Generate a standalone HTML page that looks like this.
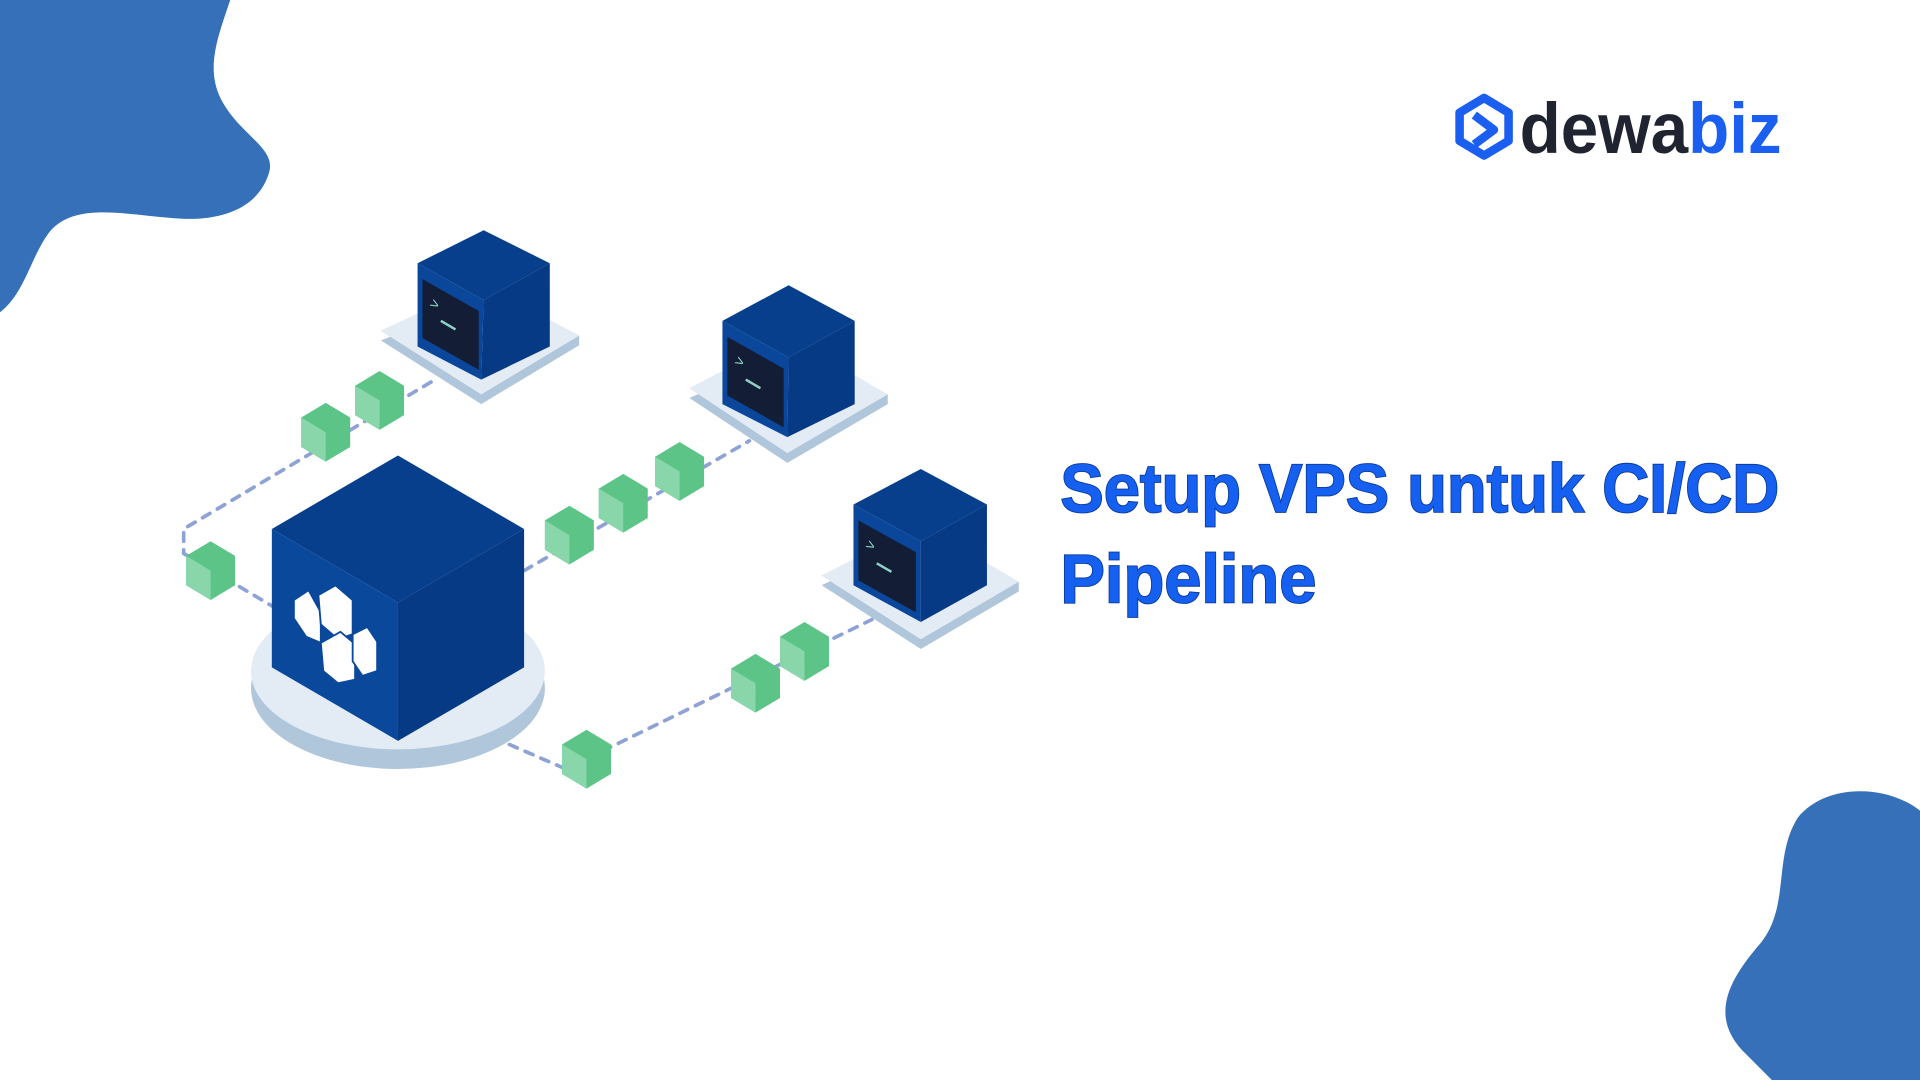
<!DOCTYPE html>
<html><head><meta charset="utf-8"><style>html,body{margin:0;padding:0;background:#fff;overflow:hidden}svg{display:block}</style></head>
<body>
<svg width="1920" height="1080" viewBox="0 0 1568 882" xmlns="http://www.w3.org/2000/svg">
<rect width="1568" height="882" fill="#fff"/>
<path d="M0,0 H188 C178,30 168,55 180,80 C195,110 225,120 220,140 C212,170 180,182 140,178 C100,175 60,165 40,190 C25,210 20,240 0,255 Z" fill="#3670b8"/>
<path d="M1568,662 C1540,640 1490,640 1468,668 C1448,700 1462,740 1438,770 C1412,800 1395,830 1425,860 L1447,882 H1568 Z" fill="#3670b8"/>

<!-- dashed connectors -->
<g fill="none" stroke="#8ea2d6" stroke-width="3" stroke-dasharray="7,7" stroke-linecap="round">
<path d="M352,312 L150,432 L150,452 L224,496"/>
<path d="M428,466 L612,360"/>
<path d="M416,608 L462,628 L712,506"/>
</g>

<!-- main platform -->
<ellipse cx="325" cy="562" rx="120" ry="66" fill="#b0c6db"/>
<ellipse cx="325" cy="548" rx="120" ry="64" fill="#e3ebf4"/>
<!-- main cube -->
<polygon points="325,372 222,432 325,492 428,432" fill="#073f8d"/>
<polygon points="222,432 325,492 325,605 222,545" fill="#0a489c"/>
<polygon points="428,432 325,492 325,605 428,545" fill="#063a85"/>
<!-- cube icon -->
<g fill="#fff" stroke="#0a489c" stroke-width="1.5">
<polygon points="240,490 252,482 262,500 262,525 250,520 240,505"/>
<polygon points="260,486 274,478 288,490 288,518 276,522 262,510"/>
<polygon points="262,525 278,516 290,526 290,555 276,558 264,548"/>
<polygon points="288,518 300,512 308,524 308,548 296,552 288,540"/>
</g>

<!-- servers -->
<g id="srv">
</g>
<!-- server 1 -->
<polygon points="393,246 311,278 393,330 473,282 473,274 393,322 311,270" fill="#b0c6db"/>
<polygon points="393,232 311,270 393,322 473,274" fill="#e3ebf4"/>
<polygon points="395,188 341,215 395,245 449,215" fill="#073f8d"/>
<polygon points="341,215 395,245 393,310 341,283" fill="#0a469a"/>
<polygon points="449,215 395,245 393,310 449,283" fill="#063a85"/>
<polygon points="345,228 391,254 391,302 345,276" fill="#131e36"/>
<text x="350" y="250" fill="#8fd3c4" font-family="Liberation Mono, monospace" font-size="12" transform="rotate(30 350 250)">&gt;</text>
<line x1="360" y1="262" x2="372" y2="269" stroke="#8fd3c4" stroke-width="2"/>

<!-- server 2 -->
<polygon points="643,290 563,325 643,378 725,330 725,322 643,370 563,317" fill="#b0c6db"/>
<polygon points="643,275 563,317 643,370 725,322" fill="#e3ebf4"/>
<polygon points="644,233 590,262 644,292 698,262" fill="#073f8d"/>
<polygon points="590,262 644,292 643,357 590,330" fill="#0a469a"/>
<polygon points="698,262 644,292 643,357 698,330" fill="#063a85"/>
<polygon points="594,275 640,301 640,349 594,323" fill="#131e36"/>
<text x="599" y="297" fill="#8fd3c4" font-family="Liberation Mono, monospace" font-size="12" transform="rotate(30 599 297)">&gt;</text>
<line x1="609" y1="310" x2="621" y2="317" stroke="#8fd3c4" stroke-width="2"/>

<!-- server 3 -->
<polygon points="752,440 671,478 752,530 832,483 832,475 752,522 671,470" fill="#b0c6db"/>
<polygon points="752,428 671,470 752,522 832,475" fill="#e3ebf4"/>
<polygon points="752,383 697,412 752,442 806,412" fill="#073f8d"/>
<polygon points="697,412 752,442 752,508 697,478" fill="#0a469a"/>
<polygon points="806,412 752,442 752,508 806,478" fill="#063a85"/>
<polygon points="701,425 748,451 748,500 701,474" fill="#131e36"/>
<text x="706" y="447" fill="#8fd3c4" font-family="Liberation Mono, monospace" font-size="12" transform="rotate(30 706 447)">&gt;</text>
<line x1="716" y1="460" x2="728" y2="467" stroke="#8fd3c4" stroke-width="2"/>

<!-- green cubes -->
<defs>
<g id="gc">
<polygon points="0,-24 20,-12 20,12 0,24 -20,12 -20,-12" fill="#5dc488"/>
<polygon points="-20,-12 0,0 0,24 -20,12" fill="#88d6aa"/>
</g>
</defs>
<use href="#gc" x="310" y="327"/>
<use href="#gc" x="266" y="353"/>
<use href="#gc" x="172" y="466"/>
<use href="#gc" x="465" y="437"/>
<use href="#gc" x="509" y="411"/>
<use href="#gc" x="555" y="385"/>
<use href="#gc" x="617" y="558"/>
<use href="#gc" x="657" y="532"/>
<use href="#gc" x="479" y="620"/>

<!-- logo -->
<g fill="none" stroke="#1a5ff0" stroke-width="7" stroke-linejoin="round">
<polygon points="1212,80 1232,92 1232,115 1212,127 1192,115 1192,92"/>
<polyline points="1204,94 1220,106 1204,118"/>
</g>
<text x="1241" y="125" font-family="Liberation Sans, sans-serif" font-weight="bold" font-size="58" textLength="214" lengthAdjust="spacingAndGlyphs"><tspan fill="#1f2430">dewa</tspan><tspan fill="#1a5ff0">biz</tspan></text>

<!-- title -->
<g font-family="Liberation Sans, sans-serif" font-weight="bold" font-size="56" fill="#1560f0" stroke="#0b3a9a" stroke-width="1.5" paint-order="stroke">
<text x="866" y="418" textLength="587" lengthAdjust="spacingAndGlyphs">Setup VPS untuk CI/CD</text>
<text x="866" y="492" textLength="209" lengthAdjust="spacingAndGlyphs">Pipeline</text>
</g>
</svg>
</body></html>
